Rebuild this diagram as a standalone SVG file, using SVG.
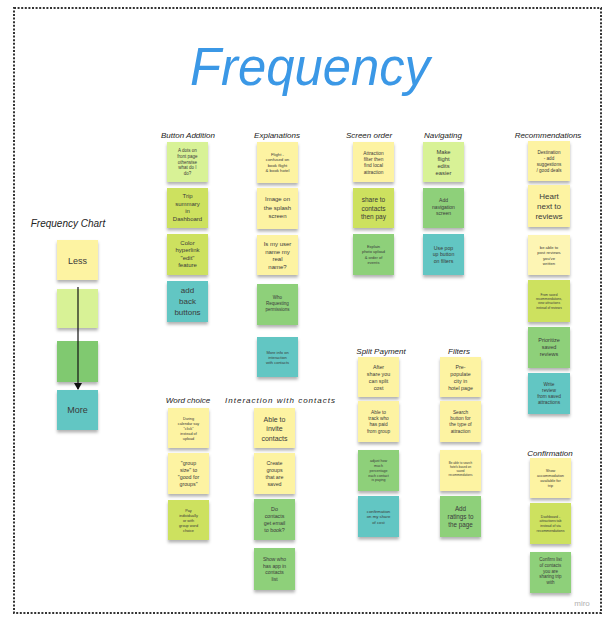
<svg xmlns="http://www.w3.org/2000/svg" width="613" height="620" viewBox="0 0 613 620">
<style>
.n{filter:url(#sh)}
.y{fill:#fdf3a2}.lg{fill:#d8f296}.yg{fill:#cde15f}.g{fill:#8ed07a}.t{fill:#62c6c3}
text{font-family:"Liberation Sans",Arial,sans-serif;fill:#3a3a3a;text-anchor:middle}
.lbl{font-size:8px;fill:#222;font-style:italic}
</style>
<defs>
<filter id="sh" x="-20%" y="-20%" width="140%" height="150%"><feDropShadow dx="0" dy="2.5" stdDeviation="1.5" flood-color="#000" flood-opacity="0.3"/></filter>
<marker id="ah" markerWidth="8" markerHeight="8" refX="6" refY="4" orient="auto" markerUnits="userSpaceOnUse"><path d="M0,0 L7,4 L0,8 z" fill="#111"/></marker>
</defs>
<rect width="613" height="620" fill="#fff"/>
<rect x="14" y="8" width="587" height="605" fill="none" stroke="#333" stroke-width="2" stroke-dasharray="2 1.6"/>
<text x="310" y="85" font-size="53" style="fill:#3b98e6;font-style:italic" textLength="240" lengthAdjust="spacingAndGlyphs">Frequency</text>
<text x="582" y="606" font-size="8" style="fill:#b0b0b0">miro</text>

<g id="labels">
<text class="lbl" x="68" y="227" style="font-size:10px">Frequency Chart</text>
<text class="lbl" x="188" y="138">Button Addition</text>
<text class="lbl" x="277" y="138">Explanations</text>
<text class="lbl" x="369" y="138">Screen order</text>
<text class="lbl" x="443" y="138">Navigating</text>
<text class="lbl" x="548" y="138">Recommendations</text>
<text class="lbl" x="188" y="403">Word choice</text>
<text class="lbl" x="280" y="403" textLength="110">Interaction with contacts</text>
<text class="lbl" x="381" y="354">Split Payment</text>
<text class="lbl" x="459" y="354">Filters</text>
<text class="lbl" x="550" y="456">Confirmation</text>
</g>

<g id="chart-less"><rect class="n y" x="57" y="240" width="41" height="40"/><text x="77.5" y="263.5" font-size="9">Less</text></g>
<g id="chart-2"><rect class="n lg" x="57" y="289" width="41" height="39"/></g>
<g id="chart-3"><rect class="n g" x="57" y="341" width="41" height="41" style="fill:#80c96f"/></g>
<g id="chart-more"><rect class="n t" x="57" y="390" width="41" height="40"/><text x="77.5" y="413" font-size="9">More</text></g>

<g id="ba1"><rect class="n lg" x="167" y="142" width="41" height="40"/><text font-size="4.5"><tspan x="187.5" y="152.4">A dots on</tspan><tspan x="187.5" y="158">front page</tspan><tspan x="187.5" y="163.6">otherwise</tspan><tspan x="187.5" y="169.2">what do I</tspan><tspan x="187.5" y="174.8">do?</tspan></text></g>
<g id="ba2"><rect class="n yg" x="167" y="188" width="41" height="40"/><text font-size="6"><tspan x="187.5" y="198.4">Trip</tspan><tspan x="187.5" y="205.9">summary</tspan><tspan x="187.5" y="213.4">in</tspan><tspan x="187.5" y="220.9">Dashboard</tspan></text></g>
<g id="ba3"><rect class="n yg" x="167" y="234" width="41" height="41"/><text font-size="6"><tspan x="187.5" y="244.9">Color</tspan><tspan x="187.5" y="252.4">hyperlink</tspan><tspan x="187.5" y="259.9">"edit"</tspan><tspan x="187.5" y="267.4">feature</tspan></text></g>
<g id="ba4"><rect class="n t" x="167" y="281" width="41" height="41"/><text font-size="8"><tspan x="187.5" y="293.3">add</tspan><tspan x="187.5" y="304.3">back</tspan><tspan x="187.5" y="315.3">buttons</tspan></text></g>

<g id="ex1"><rect class="n y" x="257" y="142" width="41" height="41"/><text font-size="4.3"><tspan x="277.5" y="155.8">Flight -</tspan><tspan x="277.5" y="161.3">confused on</tspan><tspan x="277.5" y="166.8">book flight</tspan><tspan x="277.5" y="172.3">&amp; book hotel</tspan></text></g>
<g id="ex2"><rect class="n y" x="257" y="188" width="41" height="41"/><text font-size="6"><tspan x="277.5" y="201">Image on</tspan><tspan x="277.5" y="209.5">the splash</tspan><tspan x="277.5" y="218">screen</tspan></text></g>
<g id="ex3"><rect class="n y" x="257" y="235" width="41" height="40"/><text font-size="6"><tspan x="277.5" y="246.4">Is my user</tspan><tspan x="277.5" y="253.9">name my</tspan><tspan x="277.5" y="261.4">real</tspan><tspan x="277.5" y="268.9">name?</tspan></text></g>
<g id="ex4"><rect class="n g" x="257" y="284" width="41" height="41"/><text font-size="4.5"><tspan x="277.5" y="299">Who</tspan><tspan x="277.5" y="305">Requesting</tspan><tspan x="277.5" y="311">permissions</tspan></text></g>
<g id="ex5"><rect class="n t" x="257" y="337" width="41" height="40"/><text font-size="4"><tspan x="277.5" y="353.6">More info on</tspan><tspan x="277.5" y="358.9">interaction</tspan><tspan x="277.5" y="364.2">with contacts</tspan></text></g>

<g id="so1"><rect class="n y" x="353" y="142" width="41" height="40"/><text font-size="4.8"><tspan x="373.5" y="154.9">Attraction</tspan><tspan x="373.5" y="161.1">filter then</tspan><tspan x="373.5" y="167.3">find local</tspan><tspan x="373.5" y="173.5">attraction</tspan></text></g>
<g id="so2"><rect class="n yg" x="353" y="188" width="41" height="40"/><text font-size="6.5"><tspan x="373.5" y="202.3">share to</tspan><tspan x="373.5" y="210.8">contacts</tspan><tspan x="373.5" y="219.3">then pay</tspan></text></g>
<g id="so3"><rect class="n g" x="353" y="234" width="41" height="41"/><text font-size="4"><tspan x="373.5" y="248">Explain</tspan><tspan x="373.5" y="253.3">photo upload</tspan><tspan x="373.5" y="258.6">&amp; order of</tspan><tspan x="373.5" y="263.9">events</tspan></text></g>

<g id="nv1"><rect class="n lg" x="423" y="142" width="41" height="40"/><text font-size="5.8"><tspan x="443.5" y="153.7">Make</tspan><tspan x="443.5" y="160.9">flight</tspan><tspan x="443.5" y="168.1">edits</tspan><tspan x="443.5" y="175.3">easier</tspan></text></g>
<g id="nv2"><rect class="n g" x="423" y="188" width="41" height="40"/><text font-size="5"><tspan x="443.5" y="202">Add</tspan><tspan x="443.5" y="208.5">navigation</tspan><tspan x="443.5" y="215">screen</tspan></text></g>
<g id="nv3"><rect class="n t" x="423" y="234" width="41" height="41"/><text font-size="5.2"><tspan x="443.5" y="249.5">Use pop</tspan><tspan x="443.5" y="256.3">up button</tspan><tspan x="443.5" y="263.1">on filters</tspan></text></g>

<g id="rc1"><rect class="n y" x="528" y="141" width="42" height="40"/><text font-size="4.6"><tspan x="549" y="154.3">Destination</tspan><tspan x="549" y="160.2">- add</tspan><tspan x="549" y="166.1">suggestions</tspan><tspan x="549" y="172">/ good deals</tspan></text></g>
<g id="rc2"><rect class="n y" x="528" y="185" width="42" height="42"/><text font-size="8"><tspan x="549" y="198.8">Heart</tspan><tspan x="549" y="208.8">next to</tspan><tspan x="549" y="218.8">reviews</tspan></text></g>
<g id="rc3"><rect class="n y" x="528" y="235" width="42" height="40" style="fill:#fdf5b4"/><text font-size="4.2"><tspan x="549" y="248.8">be able to</tspan><tspan x="549" y="254.3">post reviews</tspan><tspan x="549" y="259.8">you've</tspan><tspan x="549" y="265.3">written</tspan></text></g>
<g id="rc4"><rect class="n yg" x="528" y="280" width="42" height="42"/><text font-size="3.2"><tspan x="549" y="295.7">From saved</tspan><tspan x="549" y="300">recommendations,</tspan><tspan x="549" y="304.3">view attractions</tspan><tspan x="549" y="308.6">instead of reviews</tspan></text></g>
<g id="rc5"><rect class="n g" x="528" y="327" width="42" height="41"/><text font-size="5.5"><tspan x="549" y="342.4">Prioritize</tspan><tspan x="549" y="349.4">saved</tspan><tspan x="549" y="356.4">reviews</tspan></text></g>
<g id="rc6"><rect class="n t" x="528" y="373" width="42" height="41"/><text font-size="4.8"><tspan x="549" y="386.2">Write</tspan><tspan x="549" y="392.2">review</tspan><tspan x="549" y="398.2">from saved</tspan><tspan x="549" y="404.2">attractions</tspan></text></g>

<g id="wc1"><rect class="n y" x="168" y="408" width="41" height="40"/><text font-size="3.8"><tspan x="188.5" y="419.8">During</tspan><tspan x="188.5" y="424.8">calendar say</tspan><tspan x="188.5" y="429.8">"click"</tspan><tspan x="188.5" y="434.8">instead of</tspan><tspan x="188.5" y="439.8">upload</tspan></text></g>
<g id="wc2"><rect class="n y" x="168" y="453" width="41" height="41"/><text font-size="5.3"><tspan x="188.5" y="465.2">"group</tspan><tspan x="188.5" y="472">size" to</tspan><tspan x="188.5" y="478.8">"good for</tspan><tspan x="188.5" y="485.6">groups"</tspan></text></g>
<g id="wc3"><rect class="n yg" x="168" y="500" width="41" height="40"/><text font-size="3.8"><tspan x="188.5" y="511.8">Pay</tspan><tspan x="188.5" y="516.8">individually</tspan><tspan x="188.5" y="521.8">or with</tspan><tspan x="188.5" y="526.8">group word</tspan><tspan x="188.5" y="531.8">choice</tspan></text></g>

<g id="ic1"><rect class="n y" x="254" y="408" width="41" height="40"/><text font-size="7"><tspan x="274.5" y="421.5">Able to</tspan><tspan x="274.5" y="431">invite</tspan><tspan x="274.5" y="440.5">contacts</tspan></text></g>
<g id="ic2"><rect class="n y" x="254" y="453" width="41" height="41"/><text font-size="5.3"><tspan x="274.5" y="465.2">Create</tspan><tspan x="274.5" y="472">groups</tspan><tspan x="274.5" y="478.8">that are</tspan><tspan x="274.5" y="485.6">saved</tspan></text></g>
<g id="ic3"><rect class="n g" x="254" y="499" width="41" height="41"/><text font-size="5.3"><tspan x="274.5" y="511.2">Do</tspan><tspan x="274.5" y="518">contacts</tspan><tspan x="274.5" y="524.8">get email</tspan><tspan x="274.5" y="531.6">to book?</tspan></text></g>
<g id="ic4"><rect class="n g" x="254" y="548" width="41" height="42"/><text font-size="5"><tspan x="274.5" y="561">Show who</tspan><tspan x="274.5" y="567.5">has app in</tspan><tspan x="274.5" y="574">contacts</tspan><tspan x="274.5" y="580.5">list</tspan></text></g>

<g id="sp1"><rect class="n y" x="358" y="357" width="41" height="40"/><text font-size="5.3"><tspan x="378.5" y="369.2">After</tspan><tspan x="378.5" y="376">share you</tspan><tspan x="378.5" y="382.8">can split</tspan><tspan x="378.5" y="389.6">cost</tspan></text></g>
<g id="sp2"><rect class="n y" x="358" y="401" width="41" height="41"/><text font-size="4.8"><tspan x="378.5" y="413.8">Able to</tspan><tspan x="378.5" y="420.1">track who</tspan><tspan x="378.5" y="426.4">has paid</tspan><tspan x="378.5" y="432.7">from group</tspan></text></g>
<g id="sp3"><rect class="n g" x="358" y="450" width="41" height="41"/><text font-size="3.6"><tspan x="378.5" y="462.2">adjust how</tspan><tspan x="378.5" y="467">much</tspan><tspan x="378.5" y="471.8">percentage</tspan><tspan x="378.5" y="476.6">each contact</tspan><tspan x="378.5" y="481.4">is paying</tspan></text></g>
<g id="sp4"><rect class="n t" x="358" y="496" width="41" height="41"/><text font-size="4.3"><tspan x="378.5" y="512.5">confirmation</tspan><tspan x="378.5" y="518">on my share</tspan><tspan x="378.5" y="523.5">of cost</tspan></text></g>

<g id="fl1"><rect class="n y" x="440" y="357" width="41" height="40"/><text font-size="5.3"><tspan x="460.5" y="369.2">Pre-</tspan><tspan x="460.5" y="376">populate</tspan><tspan x="460.5" y="382.8">city in</tspan><tspan x="460.5" y="389.6">hotel page</tspan></text></g>
<g id="fl2"><rect class="n y" x="440" y="401" width="41" height="41"/><text font-size="4.8"><tspan x="460.5" y="413.8">Search</tspan><tspan x="460.5" y="420.1">button for</tspan><tspan x="460.5" y="426.4">the type of</tspan><tspan x="460.5" y="432.7">attraction</tspan></text></g>
<g id="fl3"><rect class="n y" x="440" y="450" width="41" height="41"/><text font-size="3"><tspan x="460.5" y="463.5">Be able to search</tspan><tspan x="460.5" y="467.5">hotels based on</tspan><tspan x="460.5" y="471.5">saved</tspan><tspan x="460.5" y="475.5">recommendations</tspan></text></g>
<g id="fl4"><rect class="n g" x="440" y="496" width="41" height="41"/><text font-size="6.3"><tspan x="460.5" y="510.5">Add</tspan><tspan x="460.5" y="518.7">ratings to</tspan><tspan x="460.5" y="526.9">the page</tspan></text></g>

<g id="cf1"><rect class="n y" x="530" y="458" width="41" height="40"/><text font-size="3.8"><tspan x="550.5" y="471.5">Show</tspan><tspan x="550.5" y="476.5">accommodation</tspan><tspan x="550.5" y="481.5">available for</tspan><tspan x="550.5" y="486.5">trip</tspan></text></g>
<g id="cf2"><rect class="n yg" x="530" y="503" width="41" height="41"/><text font-size="3.5"><tspan x="550.5" y="517.8">Dashboard -</tspan><tspan x="550.5" y="522.4">attractions tab</tspan><tspan x="550.5" y="527">instead of via</tspan><tspan x="550.5" y="531.6">recommendations</tspan></text></g>
<g id="cf3"><rect class="n g" x="530" y="552" width="41" height="41"/><text font-size="4.5"><tspan x="550.5" y="561">Confirm list</tspan><tspan x="550.5" y="566.8">of contacts</tspan><tspan x="550.5" y="572.6">you are</tspan><tspan x="550.5" y="578.4">sharing trip</tspan><tspan x="550.5" y="584.2">with</tspan></text></g>

<g id="connectors">
<line x1="78" y1="287" x2="78" y2="389" stroke="#111" stroke-width="1.2" marker-end="url(#ah)"/>
</g>
</svg>
